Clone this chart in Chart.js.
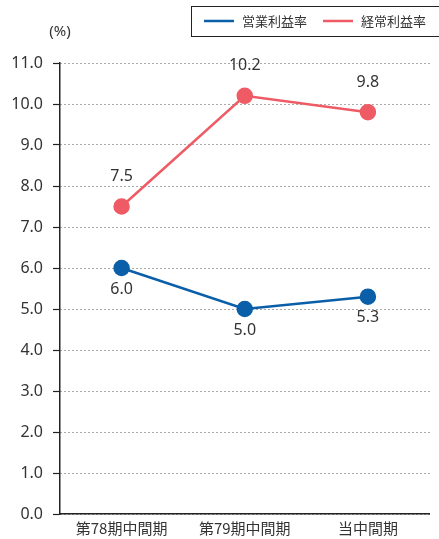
<!DOCTYPE html>
<html>
<head>
<meta charset="utf-8">
<script src="https://cdn.jsdelivr.net/npm/chart.js@4"></script>
<style>
  html, body { margin: 0; padding: 0; background: #fff; }
  #wrap { width: 439px; height: 539px; position: relative; }
</style>
</head>
<body>
<div id="wrap"><canvas id="c" width="439" height="539"></canvas></div>
<script>
const categories = ['第78期中間期', '第79期中間期', '当中間期'];
const operatingMargin = [6.0, 5.0, 5.3];
const ordinaryMargin = [7.5, 10.2, 9.8];
const seriesNames = ['営業利益率', '経常利益率'];
const yTicks = [0, 1, 2, 3, 4, 5, 6, 7, 8, 9, 10, 11];

const BLUE = '#0a5fa8';
const RED = '#ef5b64';
const TEXT = '#333333';
const JP = '"Noto Sans CJK JP", "Noto Sans", sans-serif';
const NUM = '"Noto Sans", "DejaVu Sans", sans-serif';

const decorations = {
  id: 'decorations',
  afterDatasetsDraw(chart) {
    const ctx = chart.ctx;
    ctx.save();
    // value labels
    ctx.font = '16px ' + NUM;
    ctx.fillStyle = TEXT;
    ctx.textAlign = 'center';
    ctx.textBaseline = 'middle';
    chart.data.datasets.forEach((ds, i) => {
      const meta = chart.getDatasetMeta(i);
      meta.data.forEach((pt, j) => {
        const dy = ds.labelBelow ? 21 : -30;
        ctx.fillText(ds.data[j].toFixed(1), pt.x, pt.y + dy);
      });
    });
    // unit label
    ctx.font = '15px ' + NUM;
    ctx.fillText('(%)', 60, 32);
    // legend box
    ctx.strokeStyle = '#222';
    ctx.lineWidth = 1;
    ctx.strokeRect(191.5, 6.5, 250, 30);
    const items = [
      { x: 204, color: BLUE, text: seriesNames[0] },
      { x: 323, color: RED, text: seriesNames[1] }
    ];
    ctx.font = '13px ' + JP;
    ctx.textAlign = 'left';
    items.forEach(it => {
      ctx.strokeStyle = it.color;
      ctx.lineWidth = 2.5;
      ctx.beginPath();
      ctx.moveTo(it.x, 21);
      ctx.lineTo(it.x + 30, 21);
      ctx.stroke();
      ctx.fillStyle = TEXT;
      ctx.fillText(it.text, it.x + 38, 21);
    });
    ctx.restore();
  }
};

new Chart(document.getElementById('c'), {
  type: 'line',
  data: {
    labels: categories,
    datasets: [
      {
        label: seriesNames[0],
        data: operatingMargin,
        borderColor: BLUE,
        backgroundColor: BLUE,
        borderWidth: 2.5,
        pointRadius: 7,
        pointHoverRadius: 7,
        tension: 0,
        labelBelow: true
      },
      {
        label: seriesNames[1],
        data: ordinaryMargin,
        borderColor: RED,
        backgroundColor: RED,
        borderWidth: 2.5,
        pointRadius: 7,
        pointHoverRadius: 7,
        tension: 0,
        labelBelow: false
      }
    ]
  },
  options: {
    responsive: false,
    animation: false,
    devicePixelRatio: 1,
    layout: { padding: { top: 63, right: 4, left: 0, bottom: 0 } },
    plugins: {
      legend: { display: false },
      tooltip: { enabled: false }
    },
    scales: {
      x: {
        offset: true,
        grid: { display: false, drawTicks: false },
        border: { display: true, color: '#222', width: 1.5 },
        ticks: {
          color: TEXT,
          font: { family: JP, size: 15 },
          padding: 5
        },
        afterFit(scale) { scale.height -= 3; }
      },
      y: {
        min: 0,
        max: 11,
        afterBuildTicks(scale) {
          scale.ticks = yTicks.map(v => ({ value: v }));
        },
        afterFit(scale) { scale.width = 60; },
        grid: {
          color: '#555',
          lineWidth: 1,
          drawTicks: true,
          tickLength: 7,
          tickColor: '#222',
          tickBorderDash: [],
          tickWidth: 1.2
        },
        border: { display: true, color: '#222', width: 1.5, dash: [1, 3] },
        ticks: {
          color: TEXT,
          font: { family: NUM, size: 16 },
          padding: 10,
          callback: v => Number(v).toFixed(1)
        }
      }
    }
  },
  plugins: [decorations]
});
</script>
</body>
</html>
